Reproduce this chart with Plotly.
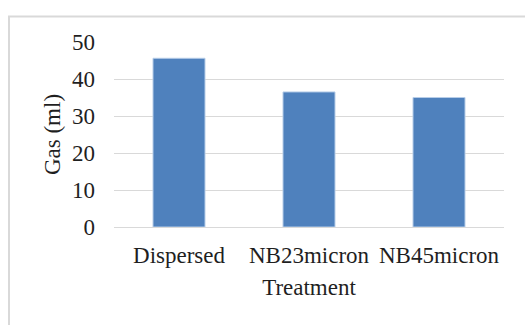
import plotly.graph_objects as go

# Gas volume by treatment
treatments = ["Dispersed", "NB23micron", "NB45micron"]
gas_ml = [45.6, 36.5, 35.0]
y_ticks = [0, 10, 20, 30, 40, 50]

W, H = 525, 325
L, R, T, B = 114, 21, 41.5, 98
pw, ph = W - L - R, H - T - B

def px(x):
    return (x - L) / pw

def py(y):
    return (H - B - y) / ph

font = "'Liberation Serif', 'Times New Roman', serif"
fs = 23

fig = go.Figure(
    go.Bar(
        x=treatments,
        y=gas_ml,
        marker=dict(color="#4f81bd", line=dict(color="#b7cde8", width=1)),
        hoverinfo="skip",
    )
)

fig.update_layout(
    width=W,
    height=H,
    margin=dict(l=L, r=R, t=T, b=B),
    paper_bgcolor="white",
    plot_bgcolor="white",
    bargap=0.6,
    showlegend=False,
    font=dict(family=font, size=fs, color="#1f1f1f"),
    xaxis=dict(
        title=dict(text="Treatment", font=dict(size=fs), standoff=11),
        showgrid=False,
        showline=False,
        ticks="",
        ticklabelstandoff=12,
        tickfont=dict(size=fs),
    ),
    yaxis=dict(
        title=dict(text="Gas (ml)", font=dict(size=fs), standoff=4),
        range=[0, 50],
        tickvals=y_ticks,
        showgrid=True,
        gridcolor="#d9d9d9",
        gridwidth=1,
        zeroline=True,
        zerolinecolor="#d9d9d9",
        zerolinewidth=1,
        ticks="",
        ticklabelstandoff=18,
        tickfont=dict(size=fs),
    ),
    shapes=[
        dict(
            type="rect",
            xref="paper",
            yref="paper",
            x0=px(9),
            x1=px(W + 10),
            y0=py(H + 10),
            y1=py(16),
            line=dict(color="#d9d9d9", width=2),
            fillcolor="rgba(0,0,0,0)",
            layer="below",
        )
    ],
)

fig.write_html("out.html")
